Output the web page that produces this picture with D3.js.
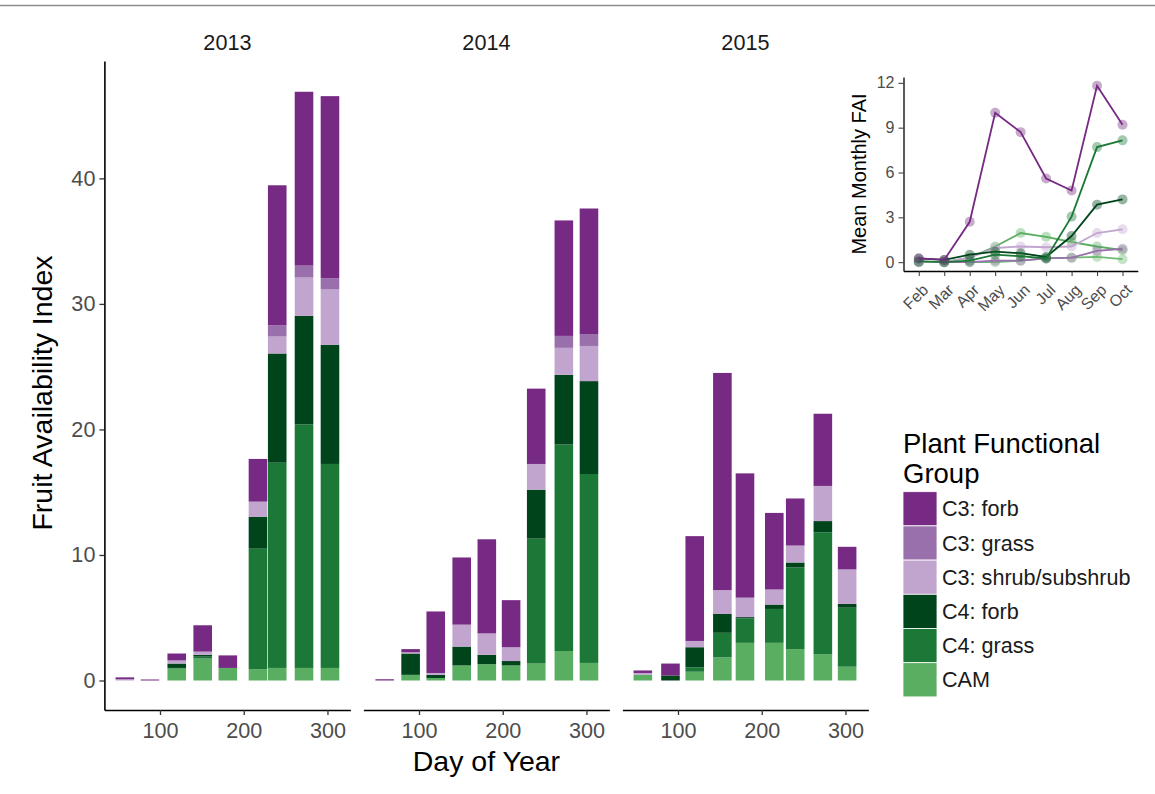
<!DOCTYPE html>
<html><head><meta charset="utf-8">
<script src="https://cdn.jsdelivr.net/npm/d3@7"></script>
<style>
body{margin:0;background:#fff}
svg{display:block}
text{font-family:"Liberation Sans",Arial,Helvetica,sans-serif}
</style>
</head><body>
<svg id="chart" width="1155" height="794"></svg>
<script>
// ---------------- DATA ----------------
const years = ["2013", "2014", "2015"];
const groups = ["C3: forb", "C3: grass", "C3: shrub/subshrub", "C4: forb", "C4: grass", "CAM"];
const groupColors = ["#762a83", "#9970ab", "#c2a5cf", "#00441b", "#1b7837", "#5aae61"];

// Day of year of each sampling (bar centres)
const days2013 = [58, 88, 120, 151, 181, 217, 240, 272, 303];
const days2014 = [59, 90, 120, 151, 181, 210, 240, 273, 303];
const days2015 = [58, 91, 120, 153, 180, 215, 240, 273, 302];

// Fruit Availability Index by functional group
const c3forb2013  = [0.15, 0.08, 0.55, 2.1, 1.0, 3.4, 11.15, 13.85, 14.5];
const c3grass2013 = [0, 0, 0, 0, 0, 0, 0.9, 0.95, 0.9];
const c3shrub2013 = [0.1, 0, 0.25, 0.25, 0, 1.2, 1.35, 3.05, 4.4];
const c4forb2013  = [0, 0, 0.35, 0.15, 0, 2.55, 8.7, 8.65, 9.5];
const c4grass2013 = [0, 0, 0.05, 0.15, 0, 9.6, 16.35, 19.4, 16.25];
const cam2013     = [0, 0, 0.95, 1.75, 1.0, 0.9, 1.0, 1.0, 1.0];

const c3forb2014  = [0.1, 0.25, 4.9, 5.35, 7.5, 3.75, 6.0, 9.2, 10.0];
const c3grass2014 = [0, 0, 0, 0, 0, 0, 0, 0.95, 0.95];
const c3shrub2014 = [0, 0.1, 0.15, 1.75, 1.7, 1.1, 2.05, 2.15, 2.8];
const c4forb2014  = [0, 1.7, 0.25, 1.5, 0.75, 0.35, 3.9, 5.55, 7.4];
const c4grass2014 = [0, 0, 0, 0, 0, 0, 9.95, 16.45, 15.05];
const cam2014     = [0, 0.45, 0.2, 1.2, 1.3, 1.2, 1.35, 2.35, 1.4];

const c3forb2015  = [0.2, 0.95, 8.35, 17.3, 9.9, 6.1, 3.75, 5.75, 1.8];
const c3grass2015 = [0, 0, 0, 0, 0, 0, 0, 0, 0];
const c3shrub2015 = [0.15, 0, 0.5, 1.9, 1.55, 1.2, 1.35, 2.8, 2.75];
const c4forb2015  = [0, 0.4, 1.6, 1.5, 0.1, 0.35, 0.4, 0.9, 0.3];
const c4grass2015 = [0, 0, 0.35, 1.95, 1.95, 2.7, 6.5, 9.7, 4.7];
const cam2015     = [0.45, 0, 0.7, 1.85, 3.0, 3.0, 2.5, 2.1, 1.1];

const yTicks = [0, 10, 20, 30, 40];
const xTicks = [100, 200, 300];

// Inset: mean monthly FAI
const months = ["Feb", "Mar", "Apr", "May", "Jun", "Jul", "Aug", "Sep", "Oct"];
const insetC3forb  = [0.25, 0.15, 2.7, 10.0, 8.7, 5.6, 4.8, 11.8, 9.2];
const insetC3grass = [0, 0, 0, 0.1, 0.1, 0.25, 0.3, 0.75, 0.9];
const insetC3shrub = [0, 0, 0.3, 0.95, 1.05, 1.0, 1.05, 1.95, 2.2];
const insetC4forb  = [0.25, 0.15, 0.5, 0.7, 0.6, 0.35, 1.75, 3.85, 4.2];
const insetC4grass = [0.05, 0, 0.1, 0.5, 0.4, 0.25, 3.05, 7.7, 8.15];
const insetCAM     = [0.05, 0, 0.3, 1.05, 1.95, 1.7, 1.35, 1.05, 0.8];
const insetOther   = [0, 0, 0, 0, 0.1, 0.25, 0.3, 0.35, 0.2];
const insetYTicks = [0, 3, 6, 9, 12];

// ---------------- BUILD TABLES ----------------
const yearData = {
  "2013": {days: days2013, vals: [c3forb2013, c3grass2013, c3shrub2013, c4forb2013, c4grass2013, cam2013]},
  "2014": {days: days2014, vals: [c3forb2014, c3grass2014, c3shrub2014, c4forb2014, c4grass2014, cam2014]},
  "2015": {days: days2015, vals: [c3forb2015, c3grass2015, c3shrub2015, c4forb2015, c4grass2015, cam2015]}
};
// stack order bottom->top: CAM, C4 grass, C4 forb, C3 shrub, C3 grass, C3 forb
const stackOrder = [5, 4, 3, 2, 1, 0];

const svg = d3.select("#chart");
const FONT_TITLE = 28.5, FONT_LEGEND_TITLE = 27.5, FONT_SMALL = 21.6;

// top border line
svg.append("line").attr("x1", 0).attr("x2", 1155).attr("y1", 5.5).attr("y2", 5.5)
  .attr("stroke", "#8e8e8e").attr("stroke-width", 1.5);

// ---------------- MAIN PANELS ----------------
const panelW = 246, panelStride = 259, panelX0 = 104.4;
const panelTop = 61, panelBottom = 710;
const x = d3.scaleLinear().domain([33.6, 327.4]).range([0, panelW]);
const y = d3.scaleLinear().domain([-2.35, 49.35]).range([panelBottom, panelTop]);
const barDays = 22.2;

years.forEach((yr, pi) => {
  const g = svg.append("g").attr("transform", `translate(${panelX0 + pi * panelStride},0)`);
  const d = yearData[yr];
  const rows = d.days.map((day, i) => {
    const r = {day};
    groups.forEach((gr, gi) => r[gr] = d.vals[gi][i]);
    return r;
  });
  const stack = d3.stack().keys(stackOrder.map(i => groups[i]));
  const series = stack(rows);
  series.forEach(s => {
    const col = groupColors[groups.indexOf(s.key)];
    g.selectAll(null).data(s.filter(v => v[1] - v[0] > 0)).enter().append("rect")
      .attr("x", v => x(v.data.day - barDays / 2))
      .attr("width", x(barDays) - x(0))
      .attr("y", v => y(v[1]))
      .attr("height", v => y(v[0]) - y(v[1]))
      .attr("fill", col);
  });
  // x axis
  const xa = g.append("g").attr("transform", `translate(0,${panelBottom})`)
    .call(d3.axisBottom(x).tickValues(xTicks).tickSize(5).tickSizeOuter(0).tickPadding(8));
  xa.select(".domain").attr("stroke", "#000").attr("stroke-width", 1.6);
  xa.selectAll(".tick line").attr("stroke", "#333").attr("stroke-width", 1.3);
  xa.selectAll(".tick text").attr("font-size", FONT_SMALL).attr("fill", "#4d4d4d")
    .attr("font-family", "Liberation Sans, Arial, sans-serif");
  // strip label
  g.append("text").attr("x", panelW / 2).attr("y", 50).attr("text-anchor", "middle")
    .attr("font-size", FONT_SMALL).attr("fill", "#1a1a1a").text(yr);
  if (pi === 0) {
    const ya = g.append("g")
      .call(d3.axisLeft(y).tickValues(yTicks).tickSize(5).tickSizeOuter(0).tickPadding(4));
    ya.select(".domain").attr("stroke", "#000").attr("stroke-width", 1.6);
    ya.selectAll(".tick line").attr("stroke", "#333").attr("stroke-width", 1.3);
    ya.selectAll(".tick text").attr("font-size", FONT_SMALL).attr("fill", "#4d4d4d")
      .attr("font-family", "Liberation Sans, Arial, sans-serif");
  }
});

// axis titles
svg.append("text").attr("x", panelX0 + (2 * panelStride + panelW) / 2).attr("y", 771)
  .attr("text-anchor", "middle").attr("font-size", FONT_TITLE).attr("fill", "#000").text("Day of Year");
svg.append("text").attr("transform", `translate(52,393) rotate(-90)`)
  .attr("text-anchor", "middle").attr("font-size", FONT_TITLE).attr("fill", "#000").text("Fruit Availability Index");

// ---------------- LEGEND ----------------
const lg = svg.append("g");
lg.append("text").attr("x", 903).attr("y", 453).attr("font-size", FONT_LEGEND_TITLE).text("Plant Functional");
lg.append("text").attr("x", 903).attr("y", 483).attr("font-size", FONT_LEGEND_TITLE).text("Group");
const keyH = 34.2, keyY0 = 491.7;
groups.forEach((gr, i) => {
  lg.append("rect").attr("x", 903).attr("y", keyY0 + i * keyH).attr("width", 34).attr("height", keyH)
    .attr("fill", groupColors[i]).attr("stroke", "#fff").attr("stroke-width", 0.8);
  lg.append("text").attr("x", 942).attr("y", keyY0 + i * keyH + keyH / 2 + 7.6)
    .attr("font-size", FONT_SMALL).attr("fill", "#1a1a1a").text(gr);
});

// ---------------- INSET ----------------
const ix0 = 903.5, ix1 = 1137.8, iy0 = 77, iy1 = 271;
const ix = d3.scalePoint().domain(months).range([ix0, ix1]).padding(0.6);
const iy = d3.scaleLinear().domain([-0.59, 12.39]).range([iy1, iy0]);
const inset = svg.append("g");
const insetSeries = [
  {vals: insetOther, color: "#6dbb73"},
  {vals: insetCAM, color: "#5aae61"},
  {vals: insetC3grass, color: "#9970ab"},
  {vals: insetC3shrub, color: "#c2a5cf"},
  {vals: insetC4forb, color: "#00441b"},
  {vals: insetC4grass, color: "#1b7837"},
  {vals: insetC3forb, color: "#762a83"}
];
const line = d3.line().x((v, i) => ix(months[i])).y(v => iy(v));
insetSeries.forEach(s => {
  inset.append("path").attr("d", line(s.vals)).attr("fill", "none")
    .attr("stroke", s.color).attr("stroke-width", 1.8);
  inset.selectAll(null).data(s.vals).enter().append("circle")
    .attr("cx", (v, i) => ix(months[i])).attr("cy", v => iy(v)).attr("r", 5)
    .attr("fill", s.color).attr("fill-opacity", 0.4);
});
const iya = inset.append("g").attr("transform", `translate(${ix0},0)`)
  .call(d3.axisLeft(iy).tickValues(insetYTicks).tickSize(5).tickSizeOuter(0).tickPadding(4));
iya.select(".domain").attr("stroke", "#000").attr("stroke-width", 1.3);
iya.selectAll(".tick line").attr("stroke", "#333");
iya.selectAll(".tick text").attr("font-size", 16).attr("fill", "#4d4d4d")
  .attr("font-family", "Liberation Sans, Arial, sans-serif");
const ixa = inset.append("g").attr("transform", `translate(0,${iy1})`)
  .call(d3.axisBottom(ix).tickSize(5).tickSizeOuter(0));
ixa.select(".domain").attr("stroke", "#000").attr("stroke-width", 1.3);
ixa.selectAll(".tick line").attr("stroke", "#333");
ixa.selectAll(".tick text").attr("font-size", 16).attr("fill", "#4d4d4d")
  .attr("font-family", "Liberation Sans, Arial, sans-serif")
  .attr("text-anchor", "end").attr("dy", "0.35em").attr("y", 0)
  .attr("transform", "translate(6,16) rotate(-45)");
inset.append("text").attr("transform", `translate(866,${(iy0 + iy1) / 2}) rotate(-90)`)
  .attr("text-anchor", "middle").attr("font-size", 20).attr("fill", "#000").text("Mean Monthly FAI");
</script>
</body></html>
